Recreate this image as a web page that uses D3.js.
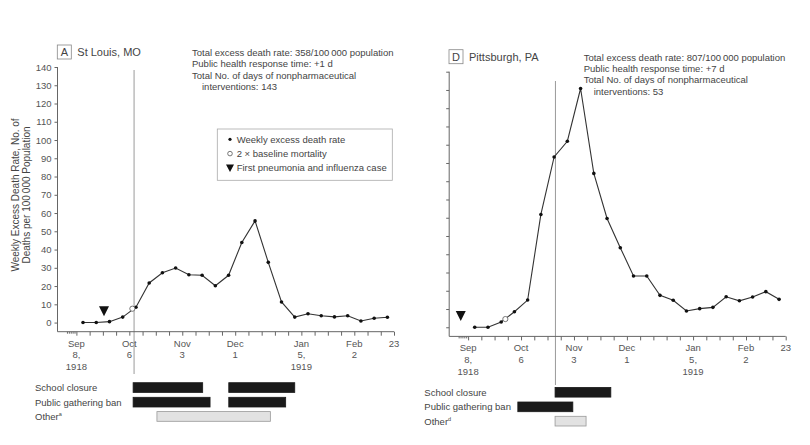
<!DOCTYPE html>
<html><head><meta charset="utf-8">
<script src="https://cdn.jsdelivr.net/npm/d3@7"></script>
<style>
body{margin:0;background:#fff;}
svg{display:block;font-family:"Liberation Sans",Arial,sans-serif;}
</style></head>
<body><svg id="chart" width="810" height="445"></svg>
<script>
// ---- data ----
// weekly points, plotted mid-week: day offset from Sep 8, 1918 = 3.5 + 7*i
const weekIndex = d3.range(24);
const stLouisRate = [0,0,0.5,3,8.4,21.7,27.3,29.9,26.2,25.9,20.2,25.9,43.9,55.7,33,11.3,3,4.8,3.7,3.1,3.7,0.9,2.4,2.9];
const pittsburghRate = [0,0,2.9,8.5,14.9,61.8,93.3,101.9,130.8,84.3,59.6,43.6,28.1,28.1,17.5,14.8,8.9,10.2,10.9,16.7,14.5,16.6,19.5,15.3];
const xTickDays = [0,28,56,84,119,147,168];
const xTickLabels = [["Sep","8,","1918"],["Oct","6"],["Nov","3"],["Dec","1"],["Jan","5,","1919"],["Feb","2"],["23"]];
const yTicks = d3.range(0,141,10);
const interventionRows = ["School closure","Public gathering ban","Other"];
const stLouisBars = [[[30,66.8],[80.6,115.5]],[[30,70.7],[80.6,110.7]],[[42.6,102.6]]];
const pittsburghBars = [[[46,75.5]],[[26.3,55.4]],[[46,62.4]]];
const stLouisInfo = ["Total excess death rate: 358/100\u2009000 population","Public health response time: +1 d","Total No. of days of nonpharmaceutical","interventions: 143"];
const pittsburghInfo = ["Total excess death rate: 807/100\u2009000 population","Public health response time: +7 d","Total No. of days of nonpharmaceutical","interventions: 53"];
const legendItems = ["Weekly excess death rate","2 \u00d7 baseline mortality","First pneumonia and influenza case"];

const panels = [
  {letter:"A", name:"St Louis, MO", rate:stLouisRate, info:stLouisInfo, bars:stLouisBars,
   baseline:{day:29.6,val:7.6}, firstCase:14.6, response:30.5, sup:"a",
   dx:0, dy:0, showYLabels:true, legend:true, lineTop:70, lineBot:374, rowLabelX:35},
  {letter:"D", name:"Pittsburgh, PA", rate:pittsburghRate, info:pittsburghInfo, bars:pittsburghBars,
   baseline:{day:19.7,val:4.5}, firstCase:-3.9, response:46.2, sup:"d",
   dx:391.7, dy:4.7, showYLabels:false, legend:false, lineTop:81, lineBot:385, rowLabelX:424.3}
];

const svg = d3.select("#chart");
const textCol = "#444";
const tickCol = "#555";

panels.forEach(p => {
  const g = svg.append("g");
  const x = d3.scaleLinear().domain([-10,168]).range([57.5+p.dx, 394+p.dx]);
  const y = d3.scaleLinear().domain([-5,140]).range([331.7+p.dy, 67+p.dy]);

  // vertical response line
  g.append("line").attr("x1",x(p.response)).attr("x2",x(p.response))
    .attr("y1",p.lineTop).attr("y2",p.lineBot).attr("stroke","#9a9a9a").attr("stroke-width",1);

  // y axis
  const yAxis = d3.axisLeft(y).tickValues(yTicks).tickSize(3).tickPadding(3)
     .tickFormat(p.showYLabels ? d3.format("d") : () => "");
  const ya = g.append("g").attr("transform",`translate(${x(-10)},0)`).call(yAxis);
  ya.select(".domain").attr("d",`M0,${y(140)}V${y(-5)}`).attr("stroke","#666");
  ya.selectAll(".tick line").attr("stroke","#666");
  ya.selectAll(".tick text").attr("fill",tickCol).attr("font-size",9.5).attr("font-family","Liberation Sans, Arial, sans-serif");

  // x axis
  const weekly = d3.range(0,169,7);
  const xAxis = d3.axisBottom(x).tickValues(weekly).tickSize(4).tickFormat("");
  const xa = g.append("g").attr("transform",`translate(0,${y(-5)})`).call(xAxis);
  xa.select(".domain").attr("d",`M${x(-10)},0H${x(168)}`).attr("stroke","#666");
  xa.selectAll(".tick line").attr("stroke","#666");
  const minor = d3.axisBottom(x).tickValues(d3.range(-5,0)).tickSize(2).tickFormat("");
  const xm = g.append("g").attr("transform",`translate(0,${y(-5)})`).call(minor);
  xm.select(".domain").remove();
  xm.selectAll(".tick line").attr("stroke","#666");

  xTickDays.forEach((d,i) => {
    const t = g.append("text").attr("x",x(d)).attr("y",y(-5)+15)
      .attr("text-anchor","middle").attr("font-size",9.5).attr("fill",tickCol);
    xTickLabels[i].forEach((s,j) => t.append("tspan").attr("x",x(d)).attr("dy", j===0?0:11.6).text(s));
  });

  // line
  const days = weekIndex.map(i => 3.5 + 7*i);
  const line = d3.line().x((d,i)=>x(days[i])).y(d=>y(d));
  g.append("path").datum(p.rate).attr("d",line).attr("fill","none").attr("stroke","#333").attr("stroke-width",1.1);
  g.selectAll(".pt").data(p.rate).enter().append("circle")
    .attr("cx",(d,i)=>x(days[i])).attr("cy",d=>y(d)).attr("r",1.8).attr("fill","#111");
  g.append("circle").attr("cx",x(p.baseline.day)).attr("cy",y(p.baseline.val)).attr("r",2.6)
    .attr("fill","#fff").attr("stroke","#555").attr("stroke-width",0.8);

  // first case triangle
  const tx = x(p.firstCase), ty = y(3.5);
  g.append("path").attr("d",`M${tx-5},${ty-10}L${tx+5},${ty-10}L${tx},${ty}Z`).attr("fill","#111");

  // title
  g.append("rect").attr("x",57.3+p.dx).attr("y",45+p.dy).attr("width",14).attr("height",14)
    .attr("fill","#fff").attr("stroke","#888").attr("stroke-width",0.8);
  g.append("text").attr("x",64.3+p.dx).attr("y",56+p.dy).attr("text-anchor","middle")
    .attr("font-size",11).attr("fill",textCol).text(p.letter);
  g.append("text").attr("x",77.3+p.dx).attr("y",56+p.dy).attr("font-size",11).attr("fill",textCol).text(p.name);

  // info text
  p.info.forEach((s,i) => {
    g.append("text").attr("x",192+p.dx+(i===3?10:0)).attr("y",56+p.dy+i*11.3)
      .attr("font-size",9.5).attr("fill",textCol).text(s);
  });

  // intervention bars
  const rowTop = [382.7,397.3,411.6];
  interventionRows.forEach((r,ri) => {
    const t = g.append("text").attr("x",p.rowLabelX).attr("y",rowTop[ri]+p.dy+8.3)
      .attr("font-size",9.5).attr("fill",textCol).text(r);
    if (ri===2) t.append("tspan").attr("font-size",5.5).attr("dy",-4).text(p.sup);
    p.bars[ri].forEach(b => {
      g.append("rect").attr("x",x(b[0])).attr("y",rowTop[ri]+p.dy).attr("width",x(b[1])-x(b[0])).attr("height",9.7)
        .attr("fill", ri===2 ? "#e2e2e2" : "#1a1a1a")
        .attr("stroke", ri===2 ? "#999" : "#1a1a1a").attr("stroke-width",0.8);
    });
  });

  // legend
  if (p.legend) {
    const lg = g.append("g");
    lg.append("rect").attr("x",217.3).attr("y",129).attr("width",175).attr("height",51.3)
      .attr("fill","#fff").attr("stroke","#aaa").attr("stroke-width",0.8);
    lg.append("circle").attr("cx",230).attr("cy",139.3).attr("r",1.6).attr("fill","#111");
    lg.append("circle").attr("cx",230).attr("cy",153.6).attr("r",2.3).attr("fill","#fff").attr("stroke","#555").attr("stroke-width",0.8);
    lg.append("path").attr("d","M226,164.5L234,164.5L230,172Z").attr("fill","#111");
    legendItems.forEach((s,i) => {
      lg.append("text").attr("x",236.7).attr("y",142.6+i*14.3).attr("font-size",9.5).attr("fill",textCol).text(s);
    });
  }

  // y axis label (left only)
  if (p.showYLabels) {
    const yl = g.append("text").attr("transform","translate(0,195) rotate(-90)")
      .attr("text-anchor","middle").attr("font-size",10).attr("fill",textCol);
    yl.append("tspan").attr("x",0).attr("y",18.5).text("Weekly Excess Death Rate, No. of");
    yl.append("tspan").attr("x",0).attr("y",30).text("Deaths per 100\u2009000 Population");
  }
});
</script></body></html>
